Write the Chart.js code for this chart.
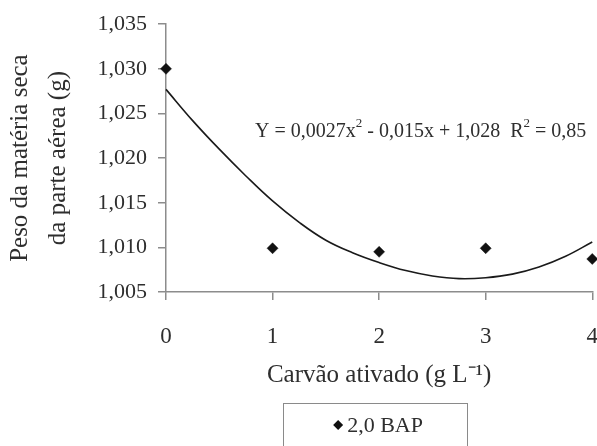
<!DOCTYPE html>
<html><head><meta charset="utf-8">
<script src="https://cdn.jsdelivr.net/npm/chart.js@4/dist/chart.umd.min.js"></script>
<style>
html,body{margin:0;padding:0;background:#fff;overflow:hidden;width:597px;height:446px}
#wrap{width:621px;height:446px}
</style></head>
<body><div id="wrap"><canvas id="c" width="621" height="446"></canvas></div>
<script>
// ---- data ----
const categories = [0, 1, 2, 3, 4];
const xTickLabels = ['0', '1', '2', '3', '4'];
const yTickValues = [1.005, 1.010, 1.015, 1.020, 1.025, 1.030, 1.035];
const yTickLabels = ['1,005', '1,010', '1,015', '1,020', '1,025', '1,030', '1,035'];
const seriesName = '2,0 BAP';
const bapValues = [1.0300, 1.0099, 1.0095, 1.0099, 1.0087];
const fitX = [0, 0.25, 0.5, 0.75, 1, 1.25, 1.5, 1.75, 2, 2.25, 2.5, 2.75, 3, 3.25, 3.5, 3.75, 4];
const fitY = [1.0277, 1.0242, 1.0210, 1.0180, 1.0152, 1.0128, 1.0108, 1.0094, 1.0083, 1.0074, 1.0068, 1.0065, 1.0066, 1.0070, 1.0078, 1.0090, 1.0106];
const equationParts = [['Y = 0,0027x', false], ['2', true], [' - 0,015x + 1,028  R', false], ['2', true], [' = 0,85', false]];
const yTitle = ['Peso da matéria seca', 'da parte aérea (g)'];
const xTitle = 'Carvão ativado (g L⁻¹)';

// ---- styles ----
const FONT = "'Liberation Serif', 'Times New Roman', serif";
const TEXT = '#2e2e2e';
const AXIS = '#8c8c8c';

const pointsData = categories.map((x, i) => ({x: x, y: bapValues[i]}));
const fitData = fitX.map((x, i) => ({x: x, y: fitY[i]}));

const extras = {
  id: 'extras',
  afterDraw(chart) {
    const ctx = chart.ctx;
    const ca = chart.chartArea;
    ctx.save();
    // equation
    let x = ca.left + 89;
    const y = 132;
    ctx.fillStyle = TEXT;
    ctx.textBaseline = 'middle';
    ctx.textAlign = 'left';
    equationParts.forEach(([t, sup]) => {
      ctx.font = (sup ? '13px ' : '20px ') + FONT;
      ctx.fillText(t, x, sup ? y - 8 : y);
      x += ctx.measureText(t).width;
    });
    // legend box
    const cx = (ca.left + ca.right) / 2 - 4;
    ctx.strokeStyle = '#8a8a8a';
    ctx.lineWidth = 1;
    ctx.strokeRect(Math.round(cx - 92) + 0.5, 403.5, 184, 60);
    const ly = 425;
    const dx = cx - 37;
    ctx.fillStyle = '#111';
    ctx.beginPath();
    ctx.moveTo(dx - 5, ly); ctx.lineTo(dx, ly - 5); ctx.lineTo(dx + 5, ly); ctx.lineTo(dx, ly + 5);
    ctx.closePath(); ctx.fill();
    ctx.fillStyle = TEXT;
    ctx.font = '22px ' + FONT;
    ctx.fillText(seriesName, dx + 9, ly + 1);
    ctx.restore();
  }
};

new Chart(document.getElementById('c'), {
  type: 'scatter',
  data: {
    datasets: [
      {
        type: 'line',
        label: 'fit',
        data: fitData,
        borderColor: '#1a1a1a',
        borderWidth: 1.6,
        pointRadius: 0,
        tension: 0.4,
        fill: false,
        clip: false
      },
      {
        label: seriesName,
        data: pointsData,
        pointStyle: 'rectRot',
        pointRadius: 5.5,
        pointBackgroundColor: '#111',
        pointBorderColor: '#111',
        pointBorderWidth: 0.5,
        clip: false
      }
    ]
  },
  options: {
    responsive: false,
    animation: false,
    devicePixelRatio: 1,
    layout: {padding: {left: 0, top: 22, right: 0, bottom: 54}},
    plugins: {legend: {display: false}, tooltip: {enabled: false}},
    scales: {
      x: {
        type: 'linear', min: 0, max: 4,
        afterFit(s) { s.height = 100; },
        afterBuildTicks(s) { s.ticks = categories.map(v => ({value: v})); },
        ticks: {
          callback: (v) => xTickLabels[categories.indexOf(v)],
          color: TEXT, font: {family: FONT, size: 23}, padding: 23, maxRotation: 0
        },
        grid: {drawOnChartArea: false, drawTicks: true, tickLength: 8, color: AXIS, lineWidth: 1.5},
        border: {display: true, color: AXIS, width: 1.5},
        title: {display: true, text: xTitle, color: TEXT, font: {family: FONT, size: 25}, padding: {top: 0, bottom: 2}}
      },
      y: {
        min: 1.005, max: 1.035,
        afterFit(s) { s.width = 166; },
        afterBuildTicks(s) { s.ticks = yTickValues.map(v => ({value: v})); },
        ticks: {
          callback: (v) => {
            const i = yTickValues.findIndex(t => Math.abs(t - v) < 1e-7);
            return i >= 0 ? yTickLabels[i] : '';
          },
          color: TEXT, font: {family: FONT, size: 22}, padding: 11
        },
        grid: {drawOnChartArea: false, drawTicks: true, tickLength: 8, color: AXIS, lineWidth: 1.5},
        border: {display: true, color: AXIS, width: 1.5},
        title: {display: true, text: yTitle, color: TEXT, font: {family: FONT, size: 25, lineHeight: 1.5}, padding: {top: 2, bottom: 0}}
      }
    }
  },
  plugins: [extras]
});
</script>
</body></html>
